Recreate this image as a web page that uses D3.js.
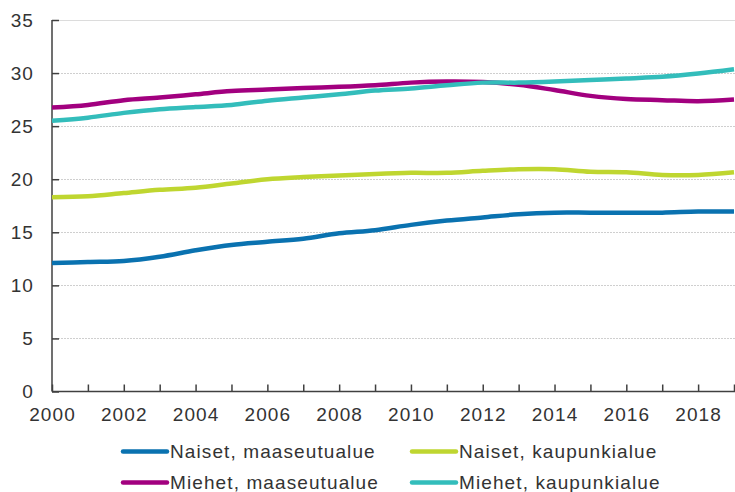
<!DOCTYPE html>
<html>
<head>
<meta charset="utf-8">
<script src="https://cdn.jsdelivr.net/npm/d3@7"></script>
<style>
  body { margin: 0; background: #fff; }
  text { font-family: "Liberation Sans", Arial, sans-serif; font-size: 19px; fill: #333; letter-spacing: 1.1px; }
</style>
</head>
<body>
<svg id="chart"></svg>
<script>
var w = 735;
var h = 492;

var years = [2000, 2001, 2002, 2003, 2004, 2005, 2006, 2007, 2008, 2009,
             2010, 2011, 2012, 2013, 2014, 2015, 2016, 2017, 2018, 2019];
var yearLabels = [2000, 2002, 2004, 2006, 2008, 2010, 2012, 2014, 2016, 2018];
var yTicks = [0, 5, 10, 15, 20, 25, 30, 35];

var naisetMaaseutu = [12.1, 12.2, 12.3, 12.7, 13.3, 13.8, 14.1, 14.4, 14.9, 15.2,
                      15.7, 16.1, 16.4, 16.7, 16.85, 16.85, 16.85, 16.85, 16.95, 16.95];
var naisetKaupunki = [18.3, 18.4, 18.7, 19.0, 19.2, 19.6, 20.0, 20.2, 20.35, 20.5,
                      20.6, 20.6, 20.8, 20.95, 20.95, 20.7, 20.65, 20.4, 20.4, 20.65];
var miehetMaaseutu = [26.75, 27.0, 27.45, 27.7, 28.0, 28.3, 28.45, 28.6, 28.7, 28.85,
                      29.1, 29.2, 29.15, 28.9, 28.4, 27.85, 27.55, 27.45, 27.35, 27.5];
var miehetKaupunki = [25.5, 25.8, 26.25, 26.6, 26.8, 27.0, 27.4, 27.7, 28.0, 28.35,
                      28.55, 28.85, 29.1, 29.1, 29.2, 29.35, 29.5, 29.65, 29.95, 30.35];

var seriesNames = ['Naiset, maaseutualue', 'Naiset, kaupunkialue',
                   'Miehet, maaseutualue', 'Miehet, kaupunkialue'];
var seriesColors = ['#0a72b0', '#bfd630', '#a2007f', '#33bdbb'];
var seriesData = [naisetMaaseutu, naisetKaupunki, miehetMaaseutu, miehetKaupunki];

var m = {top: 20, right: 1, bottom: 100.5, left: 52};

var x = d3.scaleLinear().domain([2000, 2019]).range([m.left, w - m.right]);
var y = d3.scaleLinear().domain([0, 35]).range([h - m.bottom, m.top]);

var svg = d3.select('#chart').attr('width', w).attr('height', h);

// gridlines
svg.append('g')
  .selectAll('line')
  .data(yTicks.filter(function (d) { return d > 0; }))
  .enter()
  .append('line')
  .attr('x1', m.left)
  .attr('x2', w)
  .attr('y1', function (d) { return Math.round(y(d)) + 0.5; })
  .attr('y2', function (d) { return Math.round(y(d)) + 0.5; })
  .style('stroke', function (d) { return d == 35 ? '#dcdcdc' : '#cfcfcf'; })
  .style('stroke-dasharray', function (d) { return d == 35 ? null : '2,1'; })
  .style('stroke-width', 1);

// y axis
var yAxis = d3.axisRight(y).tickValues(yTicks).tickSize(7).tickFormat('');
var yg = svg.append('g').attr('transform', 'translate(' + m.left + ',0)').call(yAxis);
yg.select('.domain').remove();
yg.selectAll('.tick line').style('stroke', '#404040').style('stroke-width', 1.5);

svg.append('g')
  .selectAll('text')
  .data(yTicks)
  .enter()
  .append('text')
  .attr('x', 34)
  .attr('y', function (d) { return y(d); })
  .attr('dy', '0.36em')
  .attr('text-anchor', 'end')
  .text(function (d) { return d; });

// x axis
var xAxis = d3.axisTop(x).tickValues(years).tickSize(7).tickFormat('');
var xg = svg.append('g').attr('transform', 'translate(0,' + y(0) + ')').call(xAxis);
xg.select('.domain').remove();
xg.selectAll('.tick line').style('stroke', '#404040').style('stroke-width', 1.5);

svg.append('g')
  .selectAll('text')
  .data(yearLabels)
  .enter()
  .append('text')
  .attr('x', function (d) { return x(d) + 0.5; })
  .attr('y', y(0) + 29)
  .attr('text-anchor', 'middle')
  .text(function (d) { return d; });

svg.append('line')
  .attr('x1', m.left).attr('x2', m.left)
  .attr('y1', m.top).attr('y2', y(0))
  .style('stroke', '#404040').style('stroke-width', 1.5);
svg.append('line')
  .attr('x1', m.left).attr('x2', w)
  .attr('y1', y(0)).attr('y2', y(0))
  .style('stroke', '#404040').style('stroke-width', 1.5);

// lines
var line = d3.line()
  .x(function (d, i) { return x(years[i]); })
  .y(function (d) { return y(d); })
  .curve(d3.curveCatmullRom.alpha(0.5));

svg.append('g')
  .selectAll('path')
  .data(seriesData)
  .enter()
  .append('path')
  .attr('d', line)
  .style('fill', 'none')
  .style('stroke', function (d, i) { return seriesColors[i]; })
  .style('stroke-width', 4.5)
  .style('stroke-linecap', 'butt');

// legend
var legX = [123, 412];
var legY = [451.5, 482.5];

var leg = svg.append('g')
  .selectAll('g')
  .data(seriesNames)
  .enter()
  .append('g')
  .attr('transform', function (d, i) {
    return 'translate(' + legX[i % 2] + ',' + legY[Math.floor(i / 2)] + ')';
  });

leg.append('line')
  .attr('x1', 0).attr('x2', 44)
  .attr('y1', 0).attr('y2', 0)
  .style('stroke', function (d, i) { return seriesColors[i]; })
  .style('stroke-width', 4.5)
  .style('stroke-linecap', 'round');

leg.append('text')
  .attr('x', 47)
  .attr('y', 0)
  .attr('dy', '0.36em')
  .text(function (d) { return d; });
</script>
</body>
</html>
